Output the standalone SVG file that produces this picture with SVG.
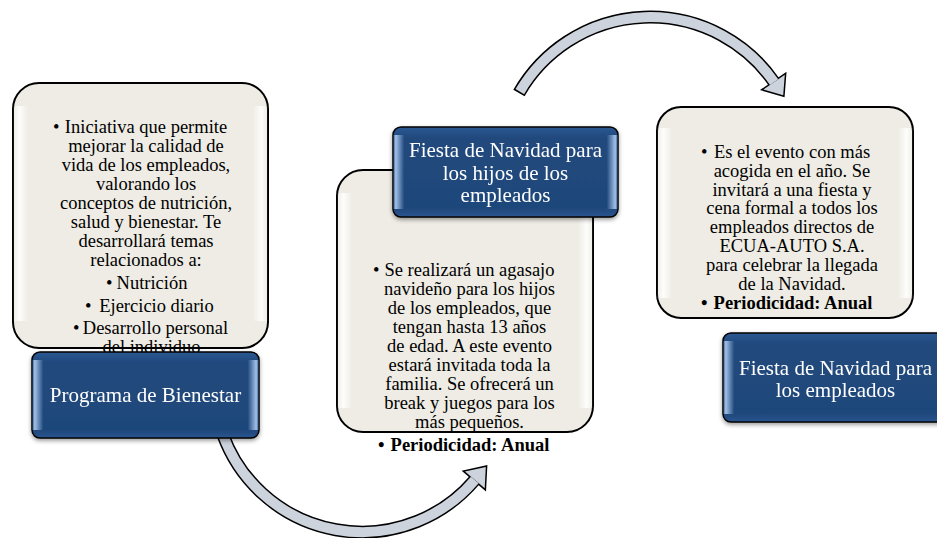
<svg xmlns="http://www.w3.org/2000/svg" width="937" height="538" viewBox="0 0 937 538">
<defs>
  <linearGradient id="blueG" x1="0" y1="0" x2="0" y2="1">
    <stop offset="0" stop-color="#2b5893"/>
    <stop offset="0.12" stop-color="#21497d"/>
    <stop offset="0.9" stop-color="#1f477a"/>
    <stop offset="1" stop-color="#2a5590"/>
  </linearGradient>
  <linearGradient id="blueEdge" x1="0" y1="0" x2="1" y2="0">
    <stop offset="0" stop-color="#a9c8f0" stop-opacity="0"/>
    <stop offset="0.012" stop-color="#a9c8f0" stop-opacity="0.95"/>
    <stop offset="0.05" stop-color="#a9c8f0" stop-opacity="0"/>
    <stop offset="0.95" stop-color="#a9c8f0" stop-opacity="0"/>
    <stop offset="0.988" stop-color="#a9c8f0" stop-opacity="0.95"/>
    <stop offset="1" stop-color="#a9c8f0" stop-opacity="0"/>
  </linearGradient>
  <linearGradient id="creamEdge" x1="0" y1="0" x2="1" y2="0">
    <stop offset="0" stop-color="#ffffff" stop-opacity="0"/>
    <stop offset="0.025" stop-color="#ffffff" stop-opacity="0.9"/>
    <stop offset="0.06" stop-color="#ffffff" stop-opacity="0"/>
    <stop offset="0.94" stop-color="#ffffff" stop-opacity="0"/>
    <stop offset="0.975" stop-color="#ffffff" stop-opacity="0.9"/>
    <stop offset="1" stop-color="#ffffff" stop-opacity="0"/>
  </linearGradient>
  <filter id="sh" x="-10%" y="-10%" width="120%" height="130%">
    <feDropShadow dx="0" dy="2" stdDeviation="2" flood-color="#000" flood-opacity="0.4"/>
  </filter>
</defs>
<style>
  .cream{fill:#eeece4;stroke:#000;stroke-width:2}
  .hl{fill:url(#creamEdge)}
  .blue{fill:url(#blueG);stroke:#000;stroke-width:1.5}
  .bhl{fill:url(#blueEdge)}
  .t{font-family:"Liberation Serif","Times New Roman",serif;font-size:18.5px;fill:#000;text-anchor:middle}
  .bul{text-anchor:start}
  .b{font-weight:bold}
  .w{font-family:"Liberation Serif","Times New Roman",serif;font-size:21px;fill:#fff;text-anchor:middle}
  .arrO{fill:none;stroke:#000;stroke-width:13}
  .arrI{fill:none;stroke:#cdd3dd;stroke-width:10}
  .headO{fill:#000;stroke:#000;stroke-width:3;stroke-linejoin:miter}
  .headI{fill:#cdd3dd}
</style>

<g id="connectors">
  <g id="arrow-bottom">
    <path class="arrO" d="M 222.9 434.6 A 148 148 0 0 0 474.8 479.9"/>
    <polygon class="headO" points="485.8,466.9 484.7,488.3 464.9,471.5"/>
    <path class="arrI" d="M 222.9 434.6 A 148 148 0 0 0 474.8 479.9"/>
    <polygon class="headI" points="485.8,466.9 484.7,488.3 464.9,471.5"/>
  </g>
  <g id="arrow-top">
    <path class="arrO" d="M 518.96 92.95 A 151 151 0 0 1 774.1 82.1"/>
    <polygon class="headO" points="783.2,95.3 784.8,74.7 763.4,89.5"/>
    <path class="arrI" d="M 519.8 91.6 A 151 151 0 0 1 774.1 82.1"/>
    <polygon class="headI" points="783.2,95.3 784.8,74.7 763.4,89.5"/>
  </g>
</g>

<g id="node-bienestar-detail">
  <rect class="cream" x="13" y="83" width="255" height="265" rx="26"/>
  <rect class="hl" x="13" y="106" width="255" height="215"/>
  <text class="t bul" x="53" y="133">•</text>
  <text class="t" x="146" y="133">Iniciativa que permite</text>
  <text class="t" x="146" y="152">mejorar la calidad de</text>
  <text class="t" x="146" y="171">vida de los empleados,</text>
  <text class="t" x="146" y="190">valorando los</text>
  <text class="t" x="146" y="209">conceptos de nutrición,</text>
  <text class="t" x="146" y="228">salud y bienestar. Te</text>
  <text class="t" x="146" y="247">desarrollará temas</text>
  <text class="t" x="146" y="266">relacionados a:</text>
  <text class="t bul" x="106" y="289">•</text>
  <text class="t" x="152" y="289">Nutrición</text>
  <text class="t bul" x="85" y="312">•</text>
  <text class="t" x="156.5" y="312">Ejercicio diario</text>
  <text class="t bul" x="73" y="334">•</text>
  <text class="t" x="155.5" y="334">Desarrollo personal</text>
  <text class="t" x="151.5" y="353">del individuo</text>
</g>

<g id="node-bienestar" filter="url(#sh)">
  <rect class="blue" x="32" y="352" width="227" height="86" rx="8"/>
  <rect class="bhl" x="32" y="360" width="227" height="70"/>
  <text class="w" x="145.5" y="402">Programa de Bienestar</text>
</g>

<g id="node-hijos-detail">
  <rect class="cream" x="337" y="170" width="256" height="262" rx="26"/>
  <rect class="hl" x="337" y="193" width="256" height="215"/>
  <text class="t bul" x="373" y="276">•</text>
  <text class="t" x="469.5" y="276">Se realizará un agasajo</text>
  <text class="t" x="469.5" y="295">navideño para los hijos</text>
  <text class="t" x="469.5" y="314">de los empleados, que</text>
  <text class="t" x="469.5" y="333">tengan hasta 13 años</text>
  <text class="t" x="469.5" y="352">de edad. A este evento</text>
  <text class="t" x="469.5" y="371">estará invitada toda la</text>
  <text class="t" x="469.5" y="390">familia. Se ofrecerá un</text>
  <text class="t" x="469.5" y="409">break y juegos para los</text>
  <text class="t" x="469.5" y="428">más pequeños.</text>
  <text class="t b bul" x="378" y="451">•</text>
  <text class="t b" x="470" y="451">Periodicidad: Anual</text>
</g>

<g id="node-hijos" filter="url(#sh)">
  <rect class="blue" x="393" y="127" width="225" height="90" rx="8"/>
  <rect class="bhl" x="393" y="135" width="225" height="74"/>
  <text class="w" x="505.5" y="157">Fiesta de Navidad para</text>
  <text class="w" x="505.5" y="179.5">los hijos de los</text>
  <text class="w" x="505.5" y="202">empleados</text>
</g>

<g id="node-empleados-detail">
  <rect class="cream" x="657" y="107" width="256" height="211" rx="24"/>
  <rect class="hl" x="657" y="128" width="256" height="170"/>
  <text class="t bul" x="701" y="158">•</text>
  <text class="t" x="792" y="158">Es el evento con más</text>
  <text class="t" x="792" y="176.8">acogida en el año. Se</text>
  <text class="t" x="792" y="195.6">invitará a una fiesta y</text>
  <text class="t" x="792" y="214.4">cena formal a todos los</text>
  <text class="t" x="792" y="233.2">empleados directos de</text>
  <text class="t" x="792" y="252">ECUA-AUTO S.A.</text>
  <text class="t" x="792" y="270.8">para celebrar la llegada</text>
  <text class="t" x="792" y="289.6">de la Navidad.</text>
  <text class="t b bul" x="701" y="309">•</text>
  <text class="t b" x="793" y="309">Periodicidad: Anual</text>
</g>

<g id="node-empleados" filter="url(#sh)">
  <rect class="blue" x="723" y="333" width="226" height="89" rx="8"/>
  <rect class="bhl" x="723" y="341" width="226" height="73"/>
  <text class="w" x="835.5" y="374.5">Fiesta de Navidad para</text>
  <text class="w" x="835.5" y="397">los empleados</text>
</g>
</svg>
